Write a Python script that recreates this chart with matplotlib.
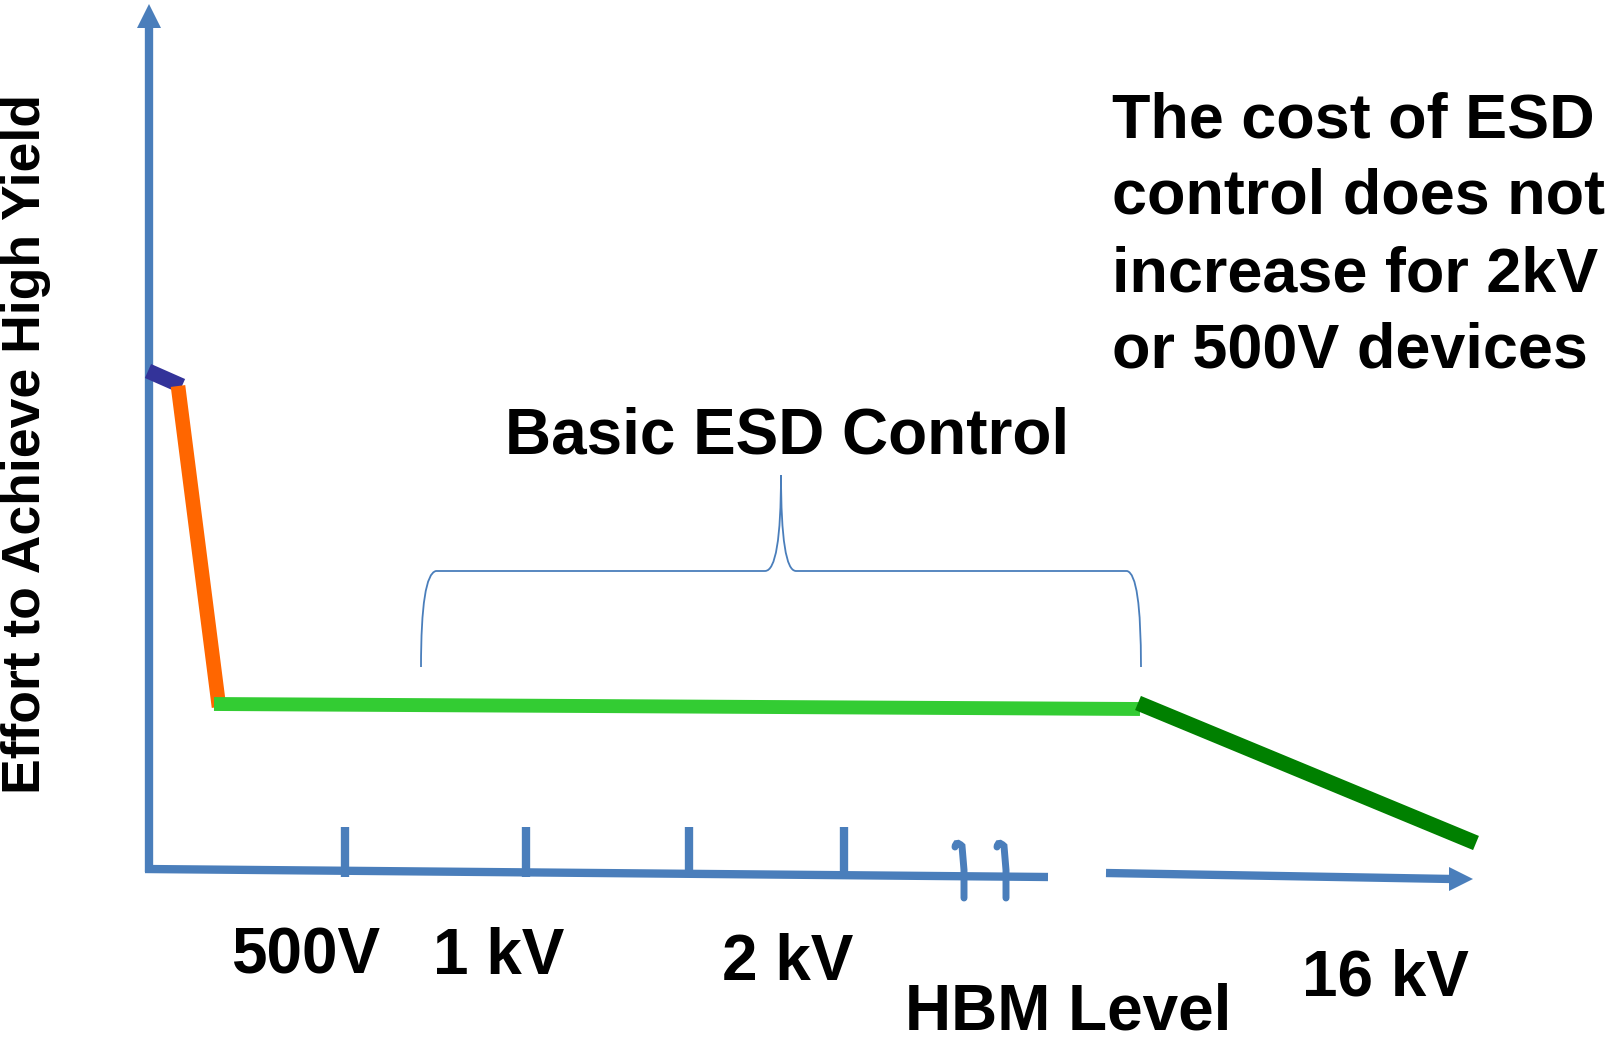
import matplotlib
matplotlib.use('Agg')
import matplotlib.pyplot as plt
from matplotlib.patches import Polygon
from matplotlib.path import Path
from matplotlib.patches import PathPatch

plt.rcParams['font.family'] = ['Liberation Sans', 'DejaVu Sans']

W, H = 1613, 1040

# curve segments (pixel coordinates of the slide, y downwards)
seg_blue_x = [148, 182]
seg_blue_y = [371, 386]
seg_orange_x = [178, 219]
seg_orange_y = [386, 707]
seg_light_x = [214, 1140]
seg_light_y = [704, 709]
seg_dark_x = [1138, 1476]
seg_dark_y = [703, 843]

# axes
y_axis_x = [149, 149]
y_axis_y = [872, 26]
x_axis1_x = [145, 1048]
x_axis1_y = [869, 877]
x_axis2_x = [1106, 1452]
x_axis2_y = [873, 879]
tick_x = [345, 526, 689, 844]

# labels
tick_labels = ['500V', '1 kV', '2 kV', '16 kV']
tick_label_x = [306, 499, 788, 1385]
tick_label_y = [974, 974, 980, 996]
note_lines = ['The cost of ESD', 'control does not', 'increase for 2kV', 'or 500V devices']
note_y = [137, 214, 291, 367]

axis_color = '#4a7ebb'

fig = plt.figure(figsize=(W / 100, H / 100), dpi=100)
ax = fig.add_axes([0, 0, 1, 1])
ax.set_xlim(0, W)
ax.set_ylim(H, 0)
ax.axis('off')

# y axis with arrow head
ax.plot(y_axis_x, y_axis_y, color=axis_color, lw=6, solid_capstyle='butt')
ax.add_patch(Polygon([[149, 4], [137, 28], [161, 28]], closed=True, color=axis_color, lw=0))

# x axis, broken
ax.plot(x_axis1_x, x_axis1_y, color=axis_color, lw=6, solid_capstyle='butt')
ax.plot(x_axis2_x, x_axis2_y, color=axis_color, lw=6, solid_capstyle='butt')
ax.add_patch(Polygon([[1473, 879], [1449, 867], [1449, 891]], closed=True, color=axis_color, lw=0))
for tx in tick_x:
    ax.plot([tx, tx], [827, 877], color=axis_color, lw=6, solid_capstyle='butt')

# break marks
for bx in [957, 999]:
    verts = [(bx - 2, 847), (bx - 1, 840), (bx + 5, 846), (bx + 7, 870), (bx + 7, 898)]
    codes = [Path.MOVETO, Path.CURVE3, Path.CURVE3, Path.LINETO, Path.LINETO]
    ax.add_patch(PathPatch(Path(verts, codes), fill=False, edgecolor=axis_color, lw=5,
                           capstyle='round'))

# curve
ax.plot(seg_blue_x, seg_blue_y, color='#333399', lw=11, solid_capstyle='butt')
ax.plot(seg_orange_x, seg_orange_y, color='#ff6600', lw=10.5, solid_capstyle='butt')
ax.plot(seg_light_x, seg_light_y, color='#33cc33', lw=10, solid_capstyle='butt')
ax.plot(seg_dark_x, seg_dark_y, color='#008000', lw=11, solid_capstyle='butt')

# brace
bverts = [(421, 667), (421, 574), (436, 571),
          (765, 571),
          (781, 571), (781, 475),
          (781, 571), (796, 571),
          (1127, 571),
          (1141, 574), (1141, 667)]
bcodes = [Path.MOVETO, Path.CURVE3, Path.CURVE3,
          Path.LINETO,
          Path.CURVE3, Path.CURVE3,
          Path.CURVE3, Path.CURVE3,
          Path.LINETO,
          Path.CURVE3, Path.CURVE3]
ax.add_patch(PathPatch(Path(bverts, bcodes), fill=False, edgecolor=axis_color, lw=1.3))

# texts
ax.text(26, 444, 'Effort to Achieve High Yield', rotation=90, ha='center', va='center',
        fontsize=38.5, fontweight='bold')
ax.text(787, 453, 'Basic ESD Control', ha='center', va='baseline', fontsize=46, fontweight='bold')
for line, ly in zip(note_lines, note_y):
    ax.text(1112, ly, line, ha='left', va='baseline', fontsize=45.3, fontweight='bold')
for lab, lx, ly in zip(tick_labels, tick_label_x, tick_label_y):
    ax.text(lx, ly, lab, ha='center', va='baseline', fontsize=46, fontweight='bold')
ax.text(1068, 1030, 'HBM Level', ha='center', va='baseline', fontsize=46, fontweight='bold')

fig.savefig('out.png', dpi=100)
